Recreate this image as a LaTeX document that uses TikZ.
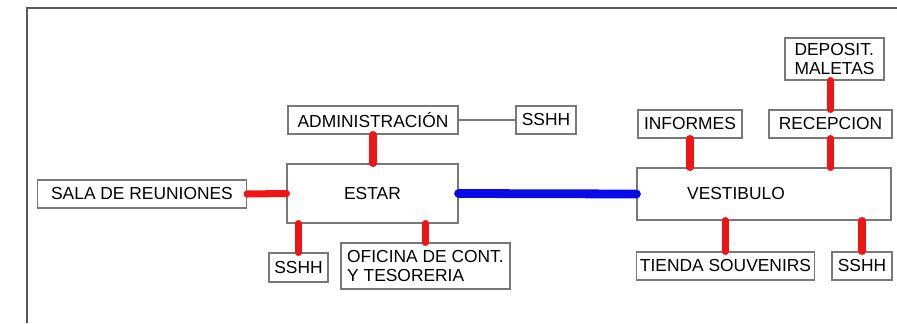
\documentclass[tikz,border=0pt]{standalone}
\usepackage{fontspec}
\setmainfont{Liberation Sans}
\usepackage{tikz}
\usetikzlibrary{positioning,calc}
\definecolor{linkred}{RGB}{240,20,20}
\definecolor{linkblue}{RGB}{10,10,230}
\definecolor{boxgray}{RGB}{120,120,120}

\begin{document}
\begin{tikzpicture}[every node/.style={font=\fontsize{9.9}{10.6}\selectfont},
  room/.style={draw=boxgray,line width=0.6pt,inner sep=2pt,minimum height=0.56cm},
  redlink/.style={linkred,line width=4pt,line cap=round},
  bluelink/.style={linkblue,line width=5pt,line cap=round}]
  \useasboundingbox (0,0) rectangle (17.94,6.46);
  % frame
  \draw[black!65,line width=1.1pt](0.54,0)--(0.54,6.30)--(17.94,6.30);
  % estar zone
  \node[room,minimum width=4.18cm] (sala) at (2.84,2.58){SALA DE REUNIONES};
  \node[room,minimum width=3.42cm,minimum height=1.18cm] (estar) at (7.45,2.59){ESTAR};
  \node[room,minimum width=3.40cm] (admin) at (7.46,4.06){ADMINISTRACIÓN};
  \node[room,minimum width=1.20cm] (sshhA) at (10.92,4.06){SSHH};
  \node[room,minimum width=1.18cm,minimum height=0.58cm] (sshhB) at (5.97,1.11){SSHH};
  \node[room,minimum width=3.38cm,minimum height=0.92cm,align=left] (oficina)
    at (8.51,1.14){OFICINA DE CONT.\\Y TESORERIA};
  % vestibulo zone
  \node[room,minimum width=5.08cm,minimum height=1.04cm,
    label={[xshift=-0.56cm,font=\fontsize{9.9}{10.6}\selectfont]center:VESTIBULO}] (vest) at (15.28,2.58){};
  \node[room,minimum width=2.08cm] (informes) at (13.80,3.98){INFORMES};
  \node[room,minimum width=2.46cm] (recep) at (16.61,3.98){RECEPCION};
  \node[room,minimum width=1.98cm,minimum height=0.84cm,align=left] (deposit)
    at (16.69,5.28){DEPOSIT.\\MALETAS};
  \node[room,minimum width=3.54cm] (tienda) at (14.51,1.14){TIENDA SOUVENIRS};
  \node[room,minimum width=1.20cm] (sshhC) at (17.24,1.14){SSHH};
  % links
  \draw[boxgray,line width=0.6pt](admin)--(sshhA);
  \draw[redlink](sala.east)--(estar.west);
  \draw[redlink](admin.south)--(admin.south |- estar.north);
  \draw[redlink](sshhB.north)--(sshhB.north |- estar.south);
  \draw[redlink](oficina.north)--(oficina.north |- estar.south);
  \draw[bluelink](estar.east)--(vest.west);
  \draw[redlink](informes.south)--(informes.south |- vest.north);
  \draw[redlink](recep.south)--(recep.south |- vest.north);
  \draw[redlink](recep.north)--(recep.north |- deposit.south);
  \draw[redlink](tienda.north)--(tienda.north |- vest.south);
  \draw[redlink](sshhC.north)--(sshhC.north |- vest.south);
\end{tikzpicture}
\end{document}
